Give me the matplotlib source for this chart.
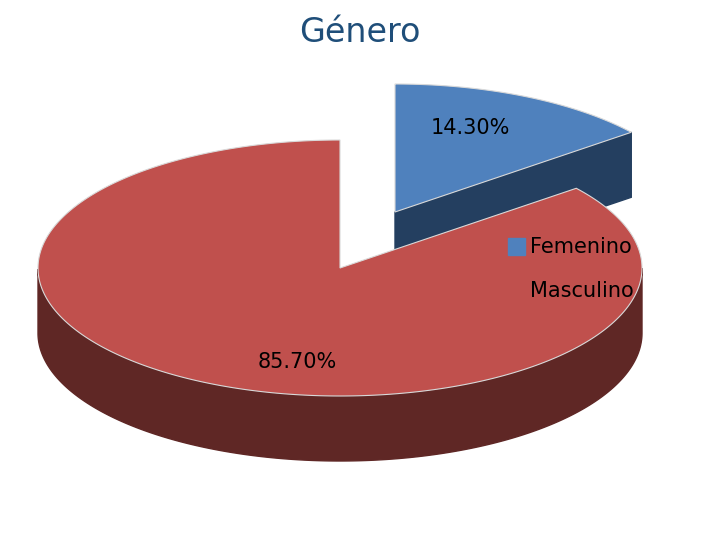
import matplotlib.pyplot as plt
import numpy as np
from matplotlib.patches import Polygon, Rectangle

labels = ['Femenino', 'Masculino']
values = [14.3, 85.7]
pct_text = ['14.30%', '85.70%']
top_colors = ['#4f81bd', '#c0504d']
side_colors = ['#243f60', '#5f2725']

cx, cy = 340, 268
rx, ry = 302, 128
depth = 65
explode = [(55, -56), (0, 0)]

fig = plt.figure(figsize=(7.2, 5.4), dpi=100)
ax = fig.add_axes([0, 0, 1, 1])
ax.set_xlim(0, 720)
ax.set_ylim(540, 0)
ax.axis('off')

def pt(a, ox, oy, dz=0):
    return cx + ox + rx * np.cos(a), cy + oy - ry * np.sin(a) + dz

# angles: start at 90 deg, clockwise
fracs = np.array(values) / sum(values)
starts = np.pi / 2 - np.concatenate([[0], np.cumsum(fracs)[:-1]]) * 2 * np.pi
ends = starts - fracs * 2 * np.pi

for i in range(len(values)):
    ox, oy = explode[i]
    a0, a1 = starts[i], ends[i]
    # radial face at end angle (visible for femenino)
    if i == 0:
        ex, ey = pt(a1, ox, oy)
        ax.add_patch(Polygon([(cx + ox, cy + oy), (ex, ey), (ex, ey + depth),
                              (cx + ox, cy + oy + depth)], color=side_colors[i], zorder=2 * i + 1))
    # outer side for front-facing part
    t = np.linspace(a1, a0, 400)
    front = t[np.sin(t) < 0]
    if len(front):
        up = [pt(a, ox, oy) for a in front]
        dn = [pt(a, ox, oy, depth) for a in front[::-1]]
        ax.add_patch(Polygon(up + dn, color=side_colors[i], zorder=2 * i + 1))
    top = [(cx + ox, cy + oy)] + [pt(a, ox, oy) for a in t]
    ax.add_patch(Polygon(top, color=top_colors[i], ec='#d9d9d9', lw=0.8, zorder=2 * i + 2))

ax.text(470, 128, pct_text[0], fontsize=15, ha='center', va='center', zorder=10)
ax.text(297, 362, pct_text[1], fontsize=15, ha='center', va='center', zorder=10)

ax.text(360, 32, 'Género', fontsize=24, color='#1f4e79', ha='center', va='center')

ax.add_patch(Rectangle((508, 238), 17, 17, color=top_colors[0], zorder=10))
ax.text(530, 247, labels[0], fontsize=15, va='center', zorder=10)
ax.text(530, 291, labels[1], fontsize=15, va='center', zorder=10)

fig.savefig('out.png', dpi=100)
